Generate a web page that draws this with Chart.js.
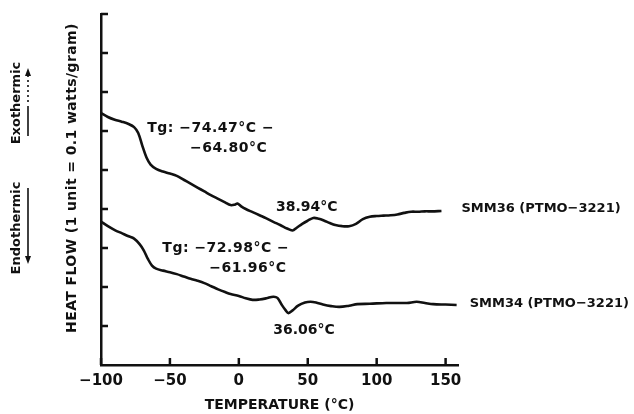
<!DOCTYPE html>
<html>
<head>
<meta charset="utf-8">
<script src="https://cdn.jsdelivr.net/npm/chart.js@4/dist/chart.umd.min.js"></script>
<style>
  html, body { margin: 0; padding: 0; background: #fff; }
  #wrap { width: 634px; height: 414px; }
</style>
</head>
<body>
<div id="wrap"><canvas id="dsc" width="634" height="414"></canvas></div>
<script>
// DSC traces (temperature in degC, heat flow in units)
const smm36Temp = [-100, -95, -90, -85, -80, -76, -73, -70, -67, -64, -60, -55, -50, -45, -40, -35, -30, -25, -20, -15, -10, -6, -3, -1, 2, 5, 10, 15, 20, 25, 30, 35, 38.9, 42, 46, 50, 54, 58, 62, 66, 70, 75, 80, 85, 90, 95, 100, 105, 110, 115, 120, 125, 130, 135, 140, 147];
const smm36Flow = [6.46, 6.36, 6.29, 6.24, 6.18, 6.1, 5.95, 5.62, 5.32, 5.14, 5.03, 4.96, 4.91, 4.85, 4.75, 4.65, 4.55, 4.45, 4.35, 4.26, 4.17, 4.1, 4.11, 4.14, 4.06, 4.0, 3.92, 3.84, 3.76, 3.67, 3.59, 3.5, 3.45, 3.52, 3.62, 3.7, 3.77, 3.75, 3.7, 3.64, 3.59, 3.56, 3.56, 3.62, 3.74, 3.8, 3.82, 3.83, 3.84, 3.86, 3.9, 3.93, 3.93, 3.94, 3.94, 3.95];

const smm34Temp = [-100, -95, -90, -85, -80, -76, -72, -69, -66, -63, -60, -55, -50, -45, -40, -35, -30, -25, -20, -15, -10, -6, 0, 5, 10, 15, 20, 25, 28, 31, 34, 36, 39, 43, 48, 52, 56, 61, 67, 73, 80, 86, 95, 107, 115, 122, 129, 135, 141, 150, 158];
const smm34Flow = [3.68, 3.56, 3.46, 3.38, 3.3, 3.24, 3.1, 2.94, 2.72, 2.55, 2.47, 2.42, 2.38, 2.33, 2.27, 2.21, 2.16, 2.1, 2.02, 1.94, 1.87, 1.82, 1.77, 1.71, 1.67, 1.68, 1.71, 1.75, 1.72, 1.55, 1.4, 1.33, 1.4, 1.52, 1.6, 1.62, 1.6, 1.55, 1.51, 1.49, 1.52, 1.56, 1.57, 1.59, 1.59, 1.59, 1.62, 1.59, 1.56, 1.55, 1.54];

const xTicks = [-100, -50, 0, 50, 100, 150];
const yTicks = [1, 2, 3, 4, 5, 6, 7, 8, 9];

const FONT = '"DejaVu Sans", "Liberation Sans", sans-serif';
const INK = '#111';

const toPoints = (xs, ys) => xs.map((x, i) => ({ x, y: ys[i] }));

// axis ticks point inward, plus all the figure annotations
const figureExtras = {
    id: 'figureExtras',
    afterDraw(chart) {
        const ctx = chart.ctx;
        const xs = chart.scales.x;
        const ys = chart.scales.y;
        const area = chart.chartArea;

        ctx.save();
        ctx.strokeStyle = INK;
        ctx.lineWidth = 2.5;
        ctx.beginPath();
        yTicks.forEach(v => {
            const py = ys.getPixelForValue(v);
            ctx.moveTo(area.left, py);
            ctx.lineTo(area.left + 7, py);
        });
        xTicks.forEach(v => {
            const px = xs.getPixelForValue(v);
            ctx.moveTo(px, area.bottom);
            ctx.lineTo(px, area.bottom - 7);
        });
        ctx.stroke();

        ctx.fillStyle = INK;
        ctx.textBaseline = 'middle';

        const label = (text, x, y) => {
            ctx.textAlign = 'left';
            ctx.fillText(text, xs.getPixelForValue(x), ys.getPixelForValue(y));
        };

        // glass transition / peak annotations
        ctx.font = 'bold 14px ' + FONT;
        ctx.letterSpacing = '0.5px';
        label('Tg: \u221274.47\u00b0C \u2212', -66.5, 6.08);
        label('\u221264.80\u00b0C', -35.5, 5.55);
        label('Tg: \u221272.98\u00b0C \u2212', -55.5, 2.98);
        label('\u221261.96\u00b0C', -21.5, 2.48);
        ctx.letterSpacing = '0px';
        label('38.94\u00b0C', 27, 4.05);
        label('36.06\u00b0C', 25, 0.9);

        // series names
        ctx.font = 'bold 13px ' + FONT;
        label('SMM36 (PTMO\u22123221)', 161.5, 4.02);
        label('SMM34 (PTMO\u22123221)', 167.5, 1.58);

        // y axis title
        ctx.font = 'bold 14px ' + FONT;
        ctx.letterSpacing = '0.4px';
        ctx.save();
        ctx.translate(72, 178);
        ctx.rotate(-Math.PI / 2);
        ctx.textAlign = 'center';
        ctx.fillText('HEAT FLOW (1 unit = 0.1 watts/gram)', 0, 0);
        ctx.restore();

        // exo / endo markers
        ctx.font = 'bold 13px ' + FONT;
        ctx.letterSpacing = '0px';
        ctx.save();
        ctx.translate(17, 103);
        ctx.rotate(-Math.PI / 2);
        ctx.textAlign = 'center';
        ctx.fillText('Exothermic', 0, 0);
        ctx.restore();
        ctx.save();
        ctx.translate(17, 228);
        ctx.rotate(-Math.PI / 2);
        ctx.textAlign = 'center';
        ctx.fillText('Endothermic', 0, 0);
        ctx.restore();

        ctx.lineWidth = 1.6;
        ctx.beginPath();
        ctx.moveTo(28, 136);
        ctx.lineTo(28, 106);
        ctx.stroke();
        ctx.setLineDash([2, 3]);
        ctx.beginPath();
        ctx.moveTo(28, 102);
        ctx.lineTo(28, 75);
        ctx.stroke();
        ctx.setLineDash([]);
        ctx.beginPath();
        ctx.moveTo(28, 188);
        ctx.lineTo(28, 257);
        ctx.stroke();
        ctx.beginPath();
        ctx.moveTo(28, 68); ctx.lineTo(25, 76); ctx.lineTo(31, 76); ctx.closePath();
        ctx.moveTo(28, 264); ctx.lineTo(25, 256); ctx.lineTo(31, 256); ctx.closePath();
        ctx.fill();

        ctx.restore();
    }
};

const lineStyle = {
    borderColor: INK,
    borderWidth: 2.6,
    pointRadius: 0,
    fill: false,
    tension: 0.35
};

new Chart(document.getElementById('dsc'), {
    type: 'line',
    data: {
        datasets: [
            Object.assign({ label: 'SMM36 (PTMO-3221)', data: toPoints(smm36Temp, smm36Flow) }, lineStyle),
            Object.assign({ label: 'SMM34 (PTMO-3221)', data: toPoints(smm34Temp, smm34Flow) }, lineStyle)
        ]
    },
    options: {
        responsive: false,
        animation: false,
        events: [],
        layout: { padding: { left: 101, top: 14, right: 176, bottom: 0 } },
        plugins: { legend: { display: false }, tooltip: { enabled: false } },
        scales: {
            x: {
                type: 'linear',
                min: -100,
                max: 159,
                afterFit: s => { s.height = 49; },
                afterBuildTicks: s => { s.ticks = xTicks.map(v => ({ value: v })); },
                grid: { display: false, drawTicks: false },
                border: { display: true, color: INK, width: 2.5 },
                ticks: {
                    color: INK,
                    padding: 7,
                    font: { family: FONT, size: 15, weight: 'bold' },
                    callback: v => String(v).replace('-', '\u2212')
                },
                title: {
                    display: true,
                    text: 'TEMPERATURE (\u00b0C)',
                    color: INK,
                    padding: { top: 0, bottom: 0 },
                    font: { family: FONT, size: 14, weight: 'bold' }
                }
            },
            y: {
                min: 0,
                max: 9,
                afterFit: s => { s.width = 0; },
                grid: { display: false, drawTicks: false },
                border: { display: true, color: INK, width: 2.5 },
                ticks: { display: false }
            }
        }
    },
    plugins: [figureExtras]
});
</script>
</body>
</html>
